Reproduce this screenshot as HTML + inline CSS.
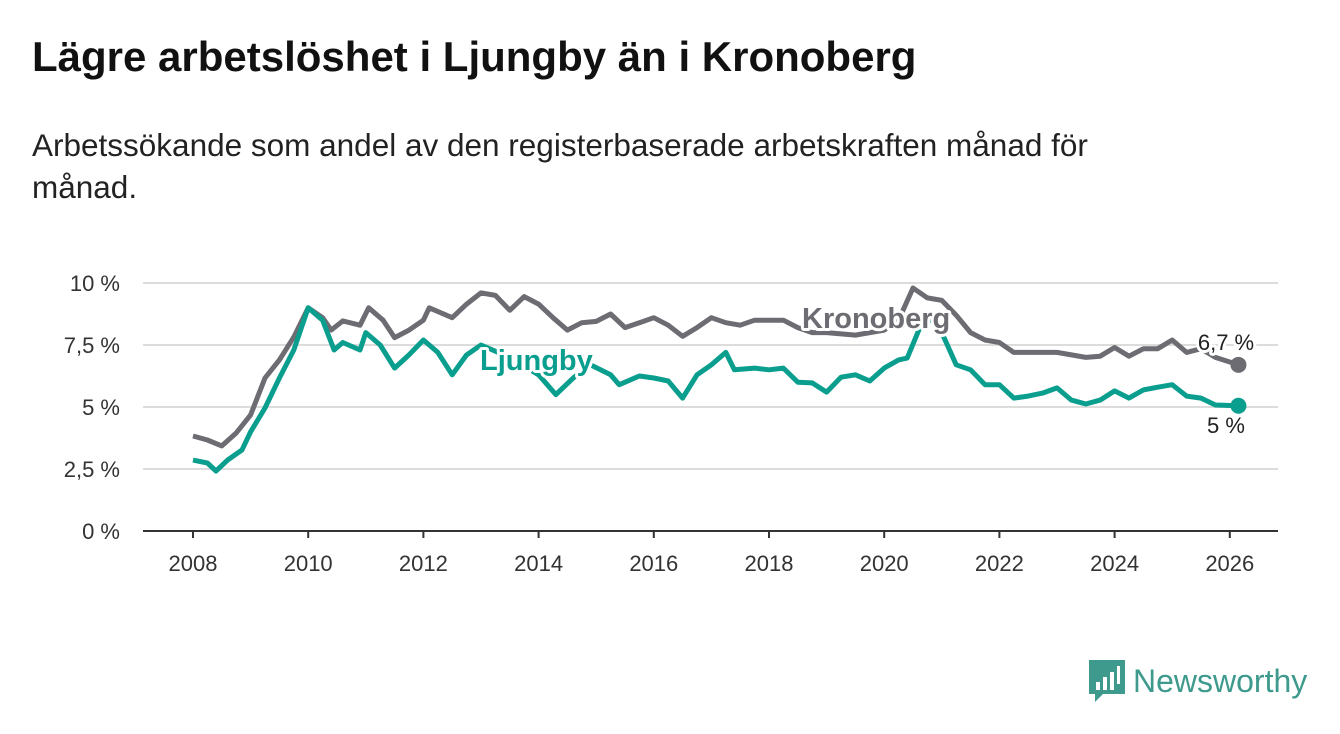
<!DOCTYPE html>
<html><head><meta charset="utf-8"><style>
body{margin:0;width:1340px;height:734px;background:#fff;font-family:"Liberation Sans",sans-serif;overflow:hidden;position:relative}
h1{position:absolute;left:32px;top:33px;margin:0;font-size:42px;font-weight:bold;color:#111}
.sub{position:absolute;left:32px;top:124px;width:1150px;font-size:31.5px;line-height:42px;color:#222}
</style></head><body>
<h1>Lägre arbetslöshet i Ljungby än i Kronoberg</h1>
<div class="sub">Arbetssökande som andel av den registerbaserade arbetskraften månad för månad.</div>
<svg id="chart" width="1340" height="734" style="position:absolute;left:0;top:0"></svg>
<div style="position:absolute;left:1089px;top:660px;display:flex;align-items:center">
<svg width="36" height="42"><path d="M0 0H36V34H14L6 42V34H0Z" fill="#3d9a8c"/><rect x="7" y="22" width="4" height="8" fill="#fff"/><rect x="14" y="17" width="4" height="13" fill="#fff"/><rect x="21" y="12" width="4" height="18" fill="#fff"/><rect x="28" y="6" width="3" height="18" fill="#fff"/></svg>
<span style="margin-left:8px;font-size:32px;color:#3d9a8c">Newsworthy</span></div>
<script>
const yTicks=[0,2.5,5,7.5,10];
const yTickLabels=["0 %","2,5 %","5 %","7,5 %","10 %"];
const xTicks=[2008,2010,2012,2014,2016,2018,2020,2022,2024,2026];
const kronDates=[2008,2008.25,2008.5,2008.75,2009,2009.25,2009.5,2009.75,2010,2010.25,2010.4,2010.6,2010.9,2011.05,2011.3,2011.5,2011.75,2012,2012.1,2012.5,2012.75,2013,2013.25,2013.5,2013.75,2014,2014.25,2014.5,2014.75,2015,2015.25,2015.5,2015.75,2016,2016.25,2016.5,2016.75,2017,2017.25,2017.5,2017.75,2018.25,2018.5,2018.75,2019,2019.5,2020,2020.25,2020.5,2020.75,2021,2021.25,2021.5,2021.75,2022,2022.25,2022.5,2023,2023.5,2023.75,2024,2024.25,2024.5,2024.75,2025,2025.25,2025.5,2025.75,2026.15];
const kronValues=[3.83,3.67,3.43,3.95,4.68,6.17,6.9,7.82,9.0,8.6,8.1,8.47,8.3,9.0,8.5,7.8,8.1,8.5,9.0,8.6,9.15,9.6,9.5,8.9,9.45,9.15,8.6,8.1,8.4,8.45,8.75,8.2,8.4,8.6,8.3,7.85,8.2,8.6,8.4,8.3,8.5,8.5,8.2,8.0,8.0,7.9,8.1,8.5,9.8,9.4,9.3,8.7,8.0,7.7,7.6,7.2,7.2,7.2,7.0,7.05,7.4,7.05,7.35,7.35,7.7,7.2,7.35,7.0,6.7];
const ljDates=[2008,2008.25,2008.4,2008.6,2008.85,2009,2009.25,2009.5,2009.75,2010,2010.25,2010.45,2010.6,2010.9,2011,2011.25,2011.5,2011.75,2012,2012.25,2012.5,2012.75,2013,2013.5,2014,2014.3,2014.6,2014.9,2015.25,2015.4,2015.75,2016,2016.25,2016.5,2016.75,2017,2017.25,2017.4,2017.75,2018,2018.25,2018.5,2018.75,2019,2019.25,2019.5,2019.75,2020,2020.25,2020.4,2020.6,2020.75,2021,2021.25,2021.5,2021.75,2022,2022.25,2022.5,2022.75,2023,2023.25,2023.5,2023.75,2024,2024.25,2024.5,2024.75,2025,2025.25,2025.5,2025.75,2026.15];
const ljValues=[2.86,2.74,2.42,2.86,3.27,4.0,4.96,6.17,7.3,9.0,8.5,7.3,7.6,7.3,8.0,7.5,6.57,7.1,7.7,7.2,6.3,7.1,7.5,7.0,6.3,5.5,6.17,6.7,6.3,5.9,6.25,6.17,6.05,5.36,6.3,6.7,7.2,6.5,6.57,6.5,6.57,6.0,5.97,5.6,6.2,6.3,6.05,6.57,6.9,6.97,8.1,8.7,8.0,6.7,6.5,5.9,5.9,5.36,5.44,5.56,5.77,5.28,5.12,5.28,5.65,5.36,5.69,5.8,5.9,5.44,5.36,5.08,5.05];
const svg=document.getElementById('chart');const NS='http://www.w3.org/2000/svg';
const X=d=>193+(d-2008)*57.6;const Y=v=>531-v*24.8;
function mk(t,a){const e=document.createElementNS(NS,t);for(const k in a)e.setAttribute(k,a[k]);svg.appendChild(e);return e;}
yTicks.forEach((v,i)=>{
 const g=mk('line',{x1:143,x2:1278,y1:Y(v),y2:Y(v),stroke:v===0?'#333':'#dcdcdc','stroke-width':2});
 
 
 const t=mk('text',{x:120,y:Y(v)+8,'text-anchor':'end','font-size':22,fill:'#333','font-family':'Liberation Sans, sans-serif'});t.textContent=yTickLabels[i];
 
 
});
xTicks.forEach(d=>{
 const l=mk('line',{x1:X(d),x2:X(d),y1:531,y2:538,stroke:'#333','stroke-width':2});
 
 
 const t=mk('text',{x:X(d),y:571,'text-anchor':'middle','font-size':22,fill:'#333','font-family':'Liberation Sans, sans-serif'});t.textContent=d;
 
 
});
function line(dates,vals,col,name){
 const p=mk('path',{d:dates.map((d,i)=>(i?'L':'M')+X(d).toFixed(1)+' '+Y(vals[i]).toFixed(1)).join(''),fill:'none',stroke:col,'stroke-width':5,'stroke-linejoin':'round'});
 
 
 const n=dates.length-1;
 const c=mk('circle',{cx:X(dates[n]),cy:Y(vals[n]),r:8,fill:col});
 
 
}
line(kronDates,kronValues,'#6d6c72','kronoberg-line');
line(ljDates,ljValues,'#0a9e8e','ljungby-line');
function lab(x,y,txt,col,size,w,name,anchor){
 const t=mk('text',{x:x,y:y,'font-size':size,'font-weight':w,fill:col,stroke:'#fff','stroke-width':6,'paint-order':'stroke','stroke-linejoin':'round','text-anchor':anchor||'start','font-family':'Liberation Sans, sans-serif'});t.textContent=txt;
 
 
}
lab(802,328,'Kronoberg','#6d6c72',29,'bold','kronoberg-label');
lab(480,370,'Ljungby','#0a9e8e',29,'bold','ljungby-label');
lab(1226,350,'6,7 %','#222',22,'normal','kronoberg-end-value','middle');
lab(1226,433,'5 %','#222',22,'normal','ljungby-end-value','middle');
</script>
</body></html>
